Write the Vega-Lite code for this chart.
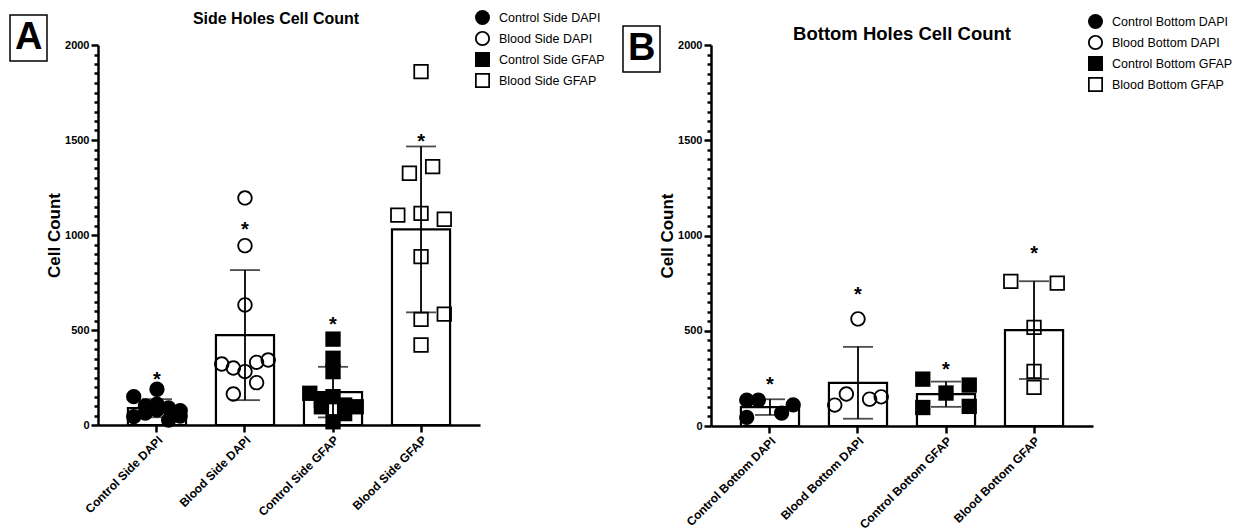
{
  "$schema": "https://vega.github.io/schema/vega-lite/v6.json",
  "padding": {"left": 9, "top": 10, "right": 5, "bottom": 0},
  "datasets": {
    "pointsA": [
      {"group": "Control Side DAPI", "lane": -2, "value": 149},
      {"group": "Control Side DAPI", "lane": 0, "value": 188},
      {"group": "Control Side DAPI", "lane": -2, "value": 44},
      {"group": "Control Side DAPI", "lane": -1, "value": 63},
      {"group": "Control Side DAPI", "lane": 1, "value": 26},
      {"group": "Control Side DAPI", "lane": 2, "value": 47},
      {"group": "Control Side DAPI", "lane": -1, "value": 100},
      {"group": "Control Side DAPI", "lane": 1, "value": 90},
      {"group": "Control Side DAPI", "lane": 2, "value": 75},
      {"group": "Control Side DAPI", "lane": 0, "value": 110},
      {"group": "Control Side DAPI", "lane": 0, "value": 80},
      {"group": "Blood Side DAPI", "lane": 0, "value": 1195},
      {"group": "Blood Side DAPI", "lane": 0, "value": 944},
      {"group": "Blood Side DAPI", "lane": 0, "value": 632},
      {"group": "Blood Side DAPI", "lane": -2, "value": 321},
      {"group": "Blood Side DAPI", "lane": -1, "value": 300},
      {"group": "Blood Side DAPI", "lane": 0, "value": 281},
      {"group": "Blood Side DAPI", "lane": 1, "value": 330},
      {"group": "Blood Side DAPI", "lane": 2, "value": 342},
      {"group": "Blood Side DAPI", "lane": 1, "value": 223},
      {"group": "Blood Side DAPI", "lane": -1, "value": 163},
      {"group": "Control Side GFAP", "lane": 0, "value": 452},
      {"group": "Control Side GFAP", "lane": 0, "value": 351},
      {"group": "Control Side GFAP", "lane": 0, "value": 281},
      {"group": "Control Side GFAP", "lane": -2, "value": 167},
      {"group": "Control Side GFAP", "lane": 0, "value": 149},
      {"group": "Control Side GFAP", "lane": -1, "value": 96},
      {"group": "Control Side GFAP", "lane": -1, "value": 130},
      {"group": "Control Side GFAP", "lane": 1, "value": 105},
      {"group": "Control Side GFAP", "lane": 2, "value": 96},
      {"group": "Control Side GFAP", "lane": 0, "value": 17},
      {"group": "Control Side GFAP", "lane": 1, "value": 60},
      {"group": "Blood Side GFAP", "lane": 0, "value": 1860},
      {"group": "Blood Side GFAP", "lane": -1, "value": 1325},
      {"group": "Blood Side GFAP", "lane": 1, "value": 1360},
      {"group": "Blood Side GFAP", "lane": -2, "value": 1105},
      {"group": "Blood Side GFAP", "lane": 0, "value": 1114},
      {"group": "Blood Side GFAP", "lane": 2, "value": 1083},
      {"group": "Blood Side GFAP", "lane": 0, "value": 886},
      {"group": "Blood Side GFAP", "lane": 0, "value": 556},
      {"group": "Blood Side GFAP", "lane": 2, "value": 584},
      {"group": "Blood Side GFAP", "lane": 0, "value": 421}
    ],
    "starsA": [
      {"group": "Control Side DAPI", "value": 267, "panel": "A"},
      {"group": "Blood Side DAPI", "value": 1058, "panel": "A"},
      {"group": "Control Side GFAP", "value": 558, "panel": "A"},
      {"group": "Blood Side GFAP", "value": 1521, "panel": "A"}
    ],
    "pointsB": [
      {"group": "Control Bottom DAPI", "lane": -2, "value": 136},
      {"group": "Control Bottom DAPI", "lane": -1, "value": 136},
      {"group": "Control Bottom DAPI", "lane": 2, "value": 111},
      {"group": "Control Bottom DAPI", "lane": 1, "value": 68},
      {"group": "Control Bottom DAPI", "lane": -2, "value": 45},
      {"group": "Blood Bottom DAPI", "lane": 0, "value": 562},
      {"group": "Blood Bottom DAPI", "lane": -2, "value": 110},
      {"group": "Blood Bottom DAPI", "lane": -1, "value": 168},
      {"group": "Blood Bottom DAPI", "lane": 1, "value": 141},
      {"group": "Blood Bottom DAPI", "lane": 2, "value": 153},
      {"group": "Control Bottom GFAP", "lane": -2, "value": 246},
      {"group": "Control Bottom GFAP", "lane": 2, "value": 215},
      {"group": "Control Bottom GFAP", "lane": 0, "value": 173},
      {"group": "Control Bottom GFAP", "lane": -2, "value": 97},
      {"group": "Control Bottom GFAP", "lane": 2, "value": 103},
      {"group": "Blood Bottom GFAP", "lane": -2, "value": 759},
      {"group": "Blood Bottom GFAP", "lane": 2, "value": 750},
      {"group": "Blood Bottom GFAP", "lane": 0, "value": 518},
      {"group": "Blood Bottom GFAP", "lane": 0, "value": 287},
      {"group": "Blood Bottom GFAP", "lane": 0, "value": 203}
    ],
    "starsB": [
      {"group": "Control Bottom DAPI", "value": 243, "panel": "B"},
      {"group": "Blood Bottom DAPI", "value": 717, "panel": "B"},
      {"group": "Control Bottom GFAP", "value": 325, "panel": "B"},
      {"group": "Blood Bottom GFAP", "value": 930, "panel": "B"}
    ]
  },
  "spacing": 17,
  "hconcat": [
    {
      "width": 382,
      "height": 380,
      "title": {"text": "Side Holes Cell Count", "fontSize": 16, "fontWeight": "bold", "dx": -13, "offset": -17, "color": "black"},
      "resolve": {"scale": {"xOffset": "independent"}},
      "layer": [
        {
          "data": {"name": "pointsA"},
          "mark": {"type": "bar", "fill": "white", "stroke": "black", "strokeWidth": 2.2},
          "encoding": {
            "x": {"field": "group", "type": "nominal", "sort": ["Control Side DAPI", "Blood Side DAPI", "Control Side GFAP", "Blood Side GFAP"], "scale": {"paddingInner": 0.34, "paddingOuter": 0.34}, "title": null},
            "y": {"aggregate": "mean", "field": "value", "type": "quantitative", "scale": {"domain": [0, 2000], "nice": false},
              "axis": {"title": "Cell Count", "format": "d", "values": [0,50,100,150,200,250,300,350,400,450,500,550,600,650,700,750,800,850,900,950,1000,1050,1100,1150,1200,1250,1300,1350,1400,1450,1500,1550,1600,1650,1700,1750,1800,1850,1900,1950,2000],
                "labelExpr": "datum.value % 500 === 0 ? datum.label : ''",
                "tickSize": {"condition": {"test": "datum.value % 500 === 0", "value": 7}, "value": 4}}}
          }
        },
        {
          "data": {"name": "pointsA"},
          "mark": {"type": "point", "filled": true, "color": "black", "strokeWidth": 0, "size": 235, "opacity": 1},
          "encoding": {
            "x": {"field": "group", "type": "nominal", "sort": ["Control Side DAPI", "Blood Side DAPI", "Control Side GFAP", "Blood Side GFAP"], "title": null},
            "xOffset": {"field": "lane", "type": "ordinal", "scale": {"domain": [-2, -1, 0, 1, 2]}},
            "y": {"field": "value", "type": "quantitative",
              "axis": {"title": "Cell Count", "format": "d", "values": [0,50,100,150,200,250,300,350,400,450,500,550,600,650,700,750,800,850,900,950,1000,1050,1100,1150,1200,1250,1300,1350,1400,1450,1500,1550,1600,1650,1700,1750,1800,1850,1900,1950,2000],
                "labelExpr": "datum.value % 500 === 0 ? datum.label : ''",
                "tickSize": {"condition": {"test": "datum.value % 500 === 0", "value": 7}, "value": 4}}},
            "shape": {"field": "group", "type": "nominal", "scale": {"domain": ["Control Side DAPI", "Blood Side DAPI", "Control Side GFAP", "Blood Side GFAP"], "range": ["circle", "M -1 0 A 1 1 0 1 0 1 0 A 1 1 0 1 0 -1 0 Z M -0.76 0 A 0.76 0.76 0 1 1 0.76 0 A 0.76 0.76 0 1 1 -0.76 0 Z", "square", "M -1 -1 H 1 V 1 H -1 Z M -0.77 -0.77 V 0.77 H 0.77 V -0.77 Z"]},
              "legend": {"title": null, "orient": "none", "legendX": 377, "legendY": -35}}
          }
        },
        {
          "data": {"name": "pointsA"},
          "mark": {"type": "errorbar", "extent": "stdev", "color": "black", "ticks": {"size": 30, "thickness": 1.8, "color": "black"}, "rule": {"strokeWidth": 1.8, "color": "black"}},
          "encoding": {
            "x": {"field": "group", "type": "nominal", "sort": ["Control Side DAPI", "Blood Side DAPI", "Control Side GFAP", "Blood Side GFAP"], "title": null},
            "y": {"field": "value", "type": "quantitative",
              "axis": {"title": "Cell Count", "format": "d", "values": [0,50,100,150,200,250,300,350,400,450,500,550,600,650,700,750,800,850,900,950,1000,1050,1100,1150,1200,1250,1300,1350,1400,1450,1500,1550,1600,1650,1700,1750,1800,1850,1900,1950,2000],
                "labelExpr": "datum.value % 500 === 0 ? datum.label : ''",
                "tickSize": {"condition": {"test": "datum.value % 500 === 0", "value": 7}, "value": 4}}}
          }
        },
        {
          "data": {"name": "starsA"},
          "mark": {"type": "text", "text": "*", "fontSize": 20, "fontWeight": "bold", "baseline": "alphabetic", "dy": 11.6},
          "encoding": {
            "x": {"field": "group", "type": "nominal", "sort": ["Control Side DAPI", "Blood Side DAPI", "Control Side GFAP", "Blood Side GFAP"], "title": null},
            "y": {"field": "value", "type": "quantitative",
              "axis": {"title": "Cell Count", "format": "d", "values": [0,50,100,150,200,250,300,350,400,450,500,550,600,650,700,750,800,850,900,950,1000,1050,1100,1150,1200,1250,1300,1350,1400,1450,1500,1550,1600,1650,1700,1750,1800,1850,1900,1950,2000],
                "labelExpr": "datum.value % 500 === 0 ? datum.label : ''",
                "tickSize": {"condition": {"test": "datum.value % 500 === 0", "value": 7}, "value": 4}}},
            "color": {"field": "panel", "type": "nominal", "scale": {"domain": ["A"], "range": ["black"]},
              "legend": {"title": null, "orient": "none", "legendX": -88, "legendY": -30, "strokeColor": "black", "padding": 4, "labelFontSize": 38, "labelFontWeight": "bold", "symbolSize": 0, "symbolOpacity": 0, "symbolStrokeWidth": 0, "labelOffset": -37}}
          }
        }
      ]
    },
    {
      "width": 382,
      "height": 381,
      "title": {"text": "Bottom Holes Cell Count", "fontSize": 18.5, "fontWeight": "bold", "offset": -29, "color": "black"},
      "resolve": {"scale": {"xOffset": "independent"}},
      "layer": [
        {
          "data": {"name": "pointsB"},
          "mark": {"type": "bar", "fill": "white", "stroke": "black", "strokeWidth": 2.2},
          "encoding": {
            "x": {"field": "group", "type": "nominal", "sort": ["Control Bottom DAPI", "Blood Bottom DAPI", "Control Bottom GFAP", "Blood Bottom GFAP"], "scale": {"paddingInner": 0.34, "paddingOuter": 0.34}, "title": null},
            "y": {"aggregate": "mean", "field": "value", "type": "quantitative", "scale": {"domain": [0, 2000], "nice": false},
              "axis": {"title": "Cell Count", "format": "d", "values": [0,50,100,150,200,250,300,350,400,450,500,550,600,650,700,750,800,850,900,950,1000,1050,1100,1150,1200,1250,1300,1350,1400,1450,1500,1550,1600,1650,1700,1750,1800,1850,1900,1950,2000],
                "labelExpr": "datum.value % 500 === 0 ? datum.label : ''",
                "tickSize": {"condition": {"test": "datum.value % 500 === 0", "value": 7}, "value": 4}}}
          }
        },
        {
          "data": {"name": "pointsB"},
          "mark": {"type": "point", "filled": true, "color": "black", "strokeWidth": 0, "size": 235, "opacity": 1},
          "encoding": {
            "x": {"field": "group", "type": "nominal", "sort": ["Control Bottom DAPI", "Blood Bottom DAPI", "Control Bottom GFAP", "Blood Bottom GFAP"], "title": null},
            "xOffset": {"field": "lane", "type": "ordinal", "scale": {"domain": [-2, -1, 0, 1, 2]}},
            "y": {"field": "value", "type": "quantitative",
              "axis": {"title": "Cell Count", "format": "d", "values": [0,50,100,150,200,250,300,350,400,450,500,550,600,650,700,750,800,850,900,950,1000,1050,1100,1150,1200,1250,1300,1350,1400,1450,1500,1550,1600,1650,1700,1750,1800,1850,1900,1950,2000],
                "labelExpr": "datum.value % 500 === 0 ? datum.label : ''",
                "tickSize": {"condition": {"test": "datum.value % 500 === 0", "value": 7}, "value": 4}}},
            "shape": {"field": "group", "type": "nominal", "scale": {"domain": ["Control Bottom DAPI", "Blood Bottom DAPI", "Control Bottom GFAP", "Blood Bottom GFAP"], "range": ["circle", "M -1 0 A 1 1 0 1 0 1 0 A 1 1 0 1 0 -1 0 Z M -0.76 0 A 0.76 0.76 0 1 1 0.76 0 A 0.76 0.76 0 1 1 -0.76 0 Z", "square", "M -1 -1 H 1 V 1 H -1 Z M -0.77 -0.77 V 0.77 H 0.77 V -0.77 Z"]},
              "legend": {"title": null, "orient": "none", "legendX": 377, "legendY": -31}}
          }
        },
        {
          "data": {"name": "pointsB"},
          "mark": {"type": "errorbar", "extent": "stdev", "color": "black", "ticks": {"size": 30, "thickness": 1.8, "color": "black"}, "rule": {"strokeWidth": 1.8, "color": "black"}},
          "encoding": {
            "x": {"field": "group", "type": "nominal", "sort": ["Control Bottom DAPI", "Blood Bottom DAPI", "Control Bottom GFAP", "Blood Bottom GFAP"], "title": null},
            "y": {"field": "value", "type": "quantitative",
              "axis": {"title": "Cell Count", "format": "d", "values": [0,50,100,150,200,250,300,350,400,450,500,550,600,650,700,750,800,850,900,950,1000,1050,1100,1150,1200,1250,1300,1350,1400,1450,1500,1550,1600,1650,1700,1750,1800,1850,1900,1950,2000],
                "labelExpr": "datum.value % 500 === 0 ? datum.label : ''",
                "tickSize": {"condition": {"test": "datum.value % 500 === 0", "value": 7}, "value": 4}}}
          }
        },
        {
          "data": {"name": "starsB"},
          "mark": {"type": "text", "text": "*", "fontSize": 20, "fontWeight": "bold", "baseline": "alphabetic", "dy": 11.6},
          "encoding": {
            "x": {"field": "group", "type": "nominal", "sort": ["Control Bottom DAPI", "Blood Bottom DAPI", "Control Bottom GFAP", "Blood Bottom GFAP"], "title": null},
            "y": {"field": "value", "type": "quantitative",
              "axis": {"title": "Cell Count", "format": "d", "values": [0,50,100,150,200,250,300,350,400,450,500,550,600,650,700,750,800,850,900,950,1000,1050,1100,1150,1200,1250,1300,1350,1400,1450,1500,1550,1600,1650,1700,1750,1800,1850,1900,1950,2000],
                "labelExpr": "datum.value % 500 === 0 ? datum.label : ''",
                "tickSize": {"condition": {"test": "datum.value % 500 === 0", "value": 7}, "value": 4}}},
            "color": {"field": "panel", "type": "nominal", "scale": {"domain": ["B"], "range": ["black"]},
              "legend": {"title": null, "orient": "none", "legendX": -88, "legendY": -19, "strokeColor": "black", "padding": 4, "labelFontSize": 38, "labelFontWeight": "bold", "symbolSize": 0, "symbolOpacity": 0, "symbolStrokeWidth": 0, "labelOffset": -37}}
          }
        }
      ]
    }
  ],
  "resolve": {"scale": {"shape": "independent", "color": "independent", "x": "independent", "y": "independent"}},
  "config": {
    "font": "Liberation Sans",
    "background": "white",
    "view": {"stroke": null},
    "axis": {"domainColor": "black", "domainWidth": 2.5, "tickColor": "black", "tickWidth": 2.5, "labelColor": "black", "labelFont": "Liberation Sans", "labelFontWeight": "bold", "labelFontSize": 11, "titleFont": "Liberation Sans", "titleFontWeight": "bold", "titleFontSize": 17, "titleColor": "black", "grid": false},
    "axisX": {"labelAngle": -45, "tickSize": 7, "labelPadding": 2, "labelFontSize": 12},
    "axisY": {"labelPadding": 2, "titlePadding": 1},
    "legend": {"symbolSize": 225, "symbolFillColor": "black", "symbolStrokeWidth": 0, "labelFontSize": 12.5, "labelFont": "Liberation Sans", "labelColor": "black", "labelOffset": 9, "rowPadding": 6, "padding": 0, "strokeWidth": 1.5},
    "title": {"font": "Liberation Sans", "anchor": "middle"}
  }
}
